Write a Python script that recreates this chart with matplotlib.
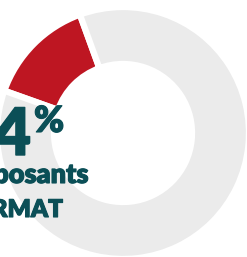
import matplotlib
matplotlib.use("Agg")
import matplotlib.pyplot as plt
import matplotlib.patheffects as pe

# Data
labels = ["FORMAT", "Autres"]
values = [14, 86]
colors = ["#be1622", "#ebebeb"]
big_label = "14"
line1 = "composants"
line2 = "FORMAT"

W, H = 247, 257
fig = plt.figure(figsize=(W / 100, H / 100), dpi=100)
ax = fig.add_axes([0, 0, 1, 1])
ax.set_xlim(0, W)
ax.set_ylim(0, H)
ax.set_aspect("equal")
ax.axis("off")

cx, cy = 123, H - 133
ax.pie(values, colors=colors, startangle=110, counterclock=True,
       radius=126, center=(cx, cy),
       wedgeprops=dict(width=57, edgecolor="white", linewidth=4.5))
ax.set_xlim(0, W)
ax.set_ylim(0, H)

teal = "#0b4f57"
fam = ["Lato", "DejaVu Sans"]
thick = [pe.withStroke(linewidth=1.0, foreground=teal)]
thick2 = [pe.withStroke(linewidth=0.8, foreground=teal)]
ax.text(31, H - 155, big_label, ha="right", va="baseline", fontsize=47,
        fontweight="heavy", color=teal, family=fam, path_effects=thick)
ax.text(34, H - 132, "%", ha="left", va="baseline", fontsize=26,
        fontweight="heavy", color=teal, family=fam, path_effects=thick2)
ax.text(89, H - 183, line1, ha="right", va="baseline", fontsize=19.5,
        fontweight="heavy", color=teal, family=fam, path_effects=thick2)
ax.text(63, H - 217, line2, ha="right", va="baseline", fontsize=17.5,
        fontweight="heavy", color=teal, family=fam, path_effects=thick2)

fig.savefig("out.png", dpi=100)
